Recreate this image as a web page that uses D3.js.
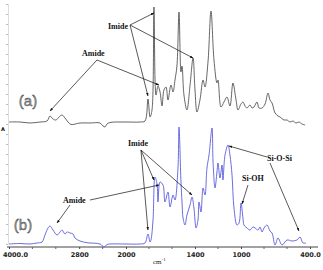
<!DOCTYPE html>
<html>
<head>
<meta charset="utf-8">
<script src="https://cdn.jsdelivr.net/npm/d3@7"></script>
<style>
  body { margin: 0; background: #fff; }
  svg { display: block; }
</style>
</head>
<body>
<div id="chart"></div>
<script>
// wavenumbers (cm-1) and absorbance
const specA_wn = [4000, 3812, 3641, 3470, 3350, 3299, 3248, 3197, 3145, 3094, 3043, 2991, 2940, 2786, 2615, 2444, 2393, 2359, 2325, 2274, 2017,
  1878, 1835, 1809, 1791, 1774, 1757, 1739, 1722, 1704, 1687, 1670, 1652, 1635, 1609, 1591, 1574, 1557, 1539, 1522, 1513, 1496, 1470,
  1443, 1417, 1400, 1383, 1357, 1330, 1313, 1287, 1261, 1235, 1209, 1200, 1174, 1148, 1122, 1096, 1070, 1043, 1026, 1000, 983, 965,
  948, 922, 904, 887, 861, 843, 817, 791, 765, 748, 730, 704, 678, 661, 626, 600, 574, 548, 522, 496, 470, 443];
const specA_abs = [0, 0, -0.01, 0, 0.01, 0.06, 0.03, 0.02, 0.05, 0.07, 0.04, 0, -0.025, -0.01, -0.01, -0.01, -0.04, -0.05, -0.02, -0.005, 0,
  0, 0.01, 0.23, 0.05, 0.12, 1.15, 0.27, 0.36, 0.30, 0.16, 0.32, 0.35, 0.22, 0.37, 0.30, 0.42, 0.56, 1.10, 0.50, 0.56, 0.27, 0.12,
  0.37, 0.64, 0.32, 0.10, 0.22, 0.42, 0.35, 0.60, 1.11, 0.62, 0.39, 0.42, 0.15, 0.20, 0.25, 0.16, 0.39, 0.22, 0.12, 0.18, 0.20, 0.16,
  0.14, 0.17, 0.14, 0.15, 0.20, 0.14, 0.14, 0.18, 0.29, 0.22, 0.19, 0.09, 0.06, 0.05, 0.02, 0.02, 0, 0.01, -0.01, 0, -0.02, -0.03];

const specB_wn = [4000, 3812, 3641, 3521, 3436, 3385, 3333, 3299, 3248, 3179, 3128, 3094, 3043, 3009, 2957, 2906, 2872, 2786, 2667, 2444, 2376, 2325, 2274, 2017,
  1878, 1835, 1809, 1791, 1783, 1765, 1748, 1730, 1722, 1704, 1678, 1661, 1635, 1617, 1591, 1574, 1548, 1539, 1522, 1513, 1504, 1487, 1470,
  1443, 1426, 1409, 1391, 1374, 1365, 1348, 1330, 1313, 1296, 1278, 1252, 1243, 1226, 1209, 1200, 1183, 1165, 1157, 1139, 1113, 1096, 1078,
  1061, 1035, 1017, 1000, 983, 974, 948, 922, 896, 878, 852, 835, 817, 800, 774, 748, 730, 704, 678, 643, 600, 557, 513, 487, 461, 435];
const specB_abs = [0, 0.005, 0, 0.01, 0.02, 0.09, 0.16, 0.18, 0.14, 0.09, 0.12, 0.14, 0.10, 0.12, 0.11, 0.10, 0.06, 0.03, 0.013, 0, -0.03, -0.005, 0, 0,
  0, 0.01, 0.10, 0.02, 0.04, 0.24, 0.67, 0.60, 0.42, 0.62, 0.59, 0.42, 0.52, 0.37, 0.49, 0.44, 0.76, 1.17, 0.62, 0.42, 0.26, 0.19, 0.29,
  0.39, 0.47, 0.36, 0.16, 0.24, 0.42, 0.32, 0.56, 0.49, 0.76, 0.89, 1.16, 0.82, 0.56, 0.72, 0.81, 0.66, 0.79, 0.64, 0.89, 0.99, 0.89, 0.69,
  0.36, 0.19, 0.21, 0.41, 0.26, 0.19, 0.16, 0.14, 0.17, 0.16, 0.14, 0.17, 0.12, 0.16, 0.19, 0.13, 0.11, -0.01, 0.06, -0.01, 0.04, 0.03, 0.04, 0.07, 0.01, 0.01];

const OFFSET_A = 1.22; // trace (a) is stacked above trace (b)

const tickVals = [4000, 2800, 2000, 1400, 1000, 400];
const tickLabels = ["4000.0", "2800", "2000", "1400", "1000", "400.0"];
const minorTicks = [3600, 3200, 2400, 1800, 1600, 1200, 800, 600];

// annotations: label text + anchor, arrows as [fromWn, fromY, toWn, toY]
const labels = [
  { text: "Imide", wn: 2308, y: 2.15 },
  { text: "Amide", wn: 2752, y: 1.88 },
  { text: "Imide", wn: 1983, y: 0.98 },
  { text: "Amide", wn: 3077, y: 0.41 },
  { text: "Si-O-Si", wn: 774, y: 0.83 },
  { text: "Si-OH", wn: 991, y: 0.63 }
];
const arrows = [
  [1965, 2.19, 1757, 2.31],
  [1965, 2.19, 1809, 1.48],
  [1965, 2.19, 1417, 1.86],
  [2496, 1.84, 3299, 1.33],
  [2496, 1.84, 1713, 1.59],
  [1870, 0.94, 1809, 0.14],
  [1870, 0.94, 1757, 0.64],
  [1870, 0.94, 1426, 0.49],
  [2615, 0.44, 1713, 0.59],
  [2957, 0.39, 3179, 0.21],
  [774, 0.87, 1104, 0.98],
  [748, 0.81, 496, 0.13],
  [939, 0.59, 991, 0.40]
];
const panelTags = [
  { text: "(a)", wn: 3675, y: 1.38 },
  { text: "(b)", wn: 3761, y: 0.14 }
];

const W = 323, H = 270;
const svg = d3.select("#chart").append("svg").attr("width", W).attr("height", H);

// FTIR style axis: scale doubles below 2000 cm-1
const x = d3.scaleLinear().domain([4000, 2000, 400]).range([9, 126, 310]);
const y = d3.scaleLinear().domain([0, 2.4]).range([244, 4]);

svg.append("defs").append("marker")
  .attr("id", "arr")
  .attr("viewBox", "0 0 10 10")
  .attr("refX", 9).attr("refY", 5)
  .attr("markerWidth", 5).attr("markerHeight", 5)
  .attr("orient", "auto")
  .append("path").attr("d", "M0,1.5 L10,5 L0,8.5 Z").attr("fill", "#111");

// left axis: faint ticks only
const yAxis = svg.append("g").attr("transform", "translate(8,0)")
  .call(d3.axisLeft(y).ticks(24).tickSize(2).tickFormat(""));
yAxis.select(".domain").attr("stroke", "#ddd");
yAxis.selectAll(".tick line").attr("stroke", "#bbb");

svg.append("text").attr("x", 1).attr("y", 131)
  .attr("font-family", "DejaVu Sans").attr("font-size", 5).attr("font-weight", "bold")
  .text("A");

// bottom axis
const xAxis = svg.append("g").attr("transform", "translate(0,247)")
  .call(d3.axisBottom(x).tickValues(tickVals).tickSize(2)
    .tickFormat((d, i) => tickLabels[i]));
xAxis.select(".domain").attr("stroke", "#444").attr("d", "M7,0H318");
xAxis.selectAll(".tick line").attr("stroke", "#444");
xAxis.selectAll(".tick text")
  .attr("y", 5)
  .attr("dx", (d, i) => i === 0 ? 6 : 0)
  .attr("font-family", "DejaVu Sans").attr("font-size", 6.5).attr("font-weight", "bold")
  .attr("fill", "#222");
xAxis.selectAll(".minor").data(minorTicks).enter().append("line")
  .attr("class", "minor")
  .attr("x1", d => x(d)).attr("x2", d => x(d))
  .attr("y1", 0).attr("y2", 2)
  .attr("stroke", "#666");

const cm = svg.append("text").attr("x", 153).attr("y", 264)
  .attr("font-family", "Liberation Serif").attr("font-size", 7).attr("fill", "#222");
cm.append("tspan").text("cm");
cm.append("tspan").attr("dy", -3).attr("font-size", 5).text("-1");

// spectra
const line = d3.line().curve(d3.curveCatmullRom.alpha(0.5));

const ptsA = specA_wn.map((w, i) => [x(w), y(specA_abs[i] + OFFSET_A)]);
const ptsB = specB_wn.map((w, i) => [x(w), y(specB_abs[i])]);

svg.append("path").attr("d", line(ptsA))
  .attr("fill", "none").attr("stroke", "#555").attr("stroke-width", 0.9);
svg.append("path").attr("d", line(ptsB))
  .attr("fill", "none").attr("stroke", "#5b5bdc").attr("stroke-width", 0.9);

// annotations
svg.selectAll("line.arrow").data(arrows).enter().append("line")
  .attr("class", "arrow")
  .attr("x1", d => x(d[0])).attr("y1", d => y(d[1]))
  .attr("x2", d => x(d[2])).attr("y2", d => y(d[3]))
  .attr("stroke", "#111").attr("stroke-width", 0.7)
  .attr("marker-end", "url(#arr)");

svg.selectAll("text.lab").data(labels).enter().append("text")
  .attr("class", "lab")
  .attr("x", d => x(d.wn)).attr("y", d => y(d.y))
  .attr("font-family", "Liberation Serif").attr("font-size", 8)
  .attr("font-weight", "bold").attr("fill", "#111")
  .text(d => d.text);

svg.selectAll("text.tag").data(panelTags).enter().append("text")
  .attr("class", "tag")
  .attr("x", d => x(d.wn)).attr("y", d => y(d.y))
  .attr("text-anchor", "middle")
  .attr("font-family", "Liberation Sans").attr("font-size", 15)
  .attr("fill", "#999").attr("stroke", "#444").attr("stroke-width", 0.4)
  .text(d => d.text);
</script>
</body>
</html>
